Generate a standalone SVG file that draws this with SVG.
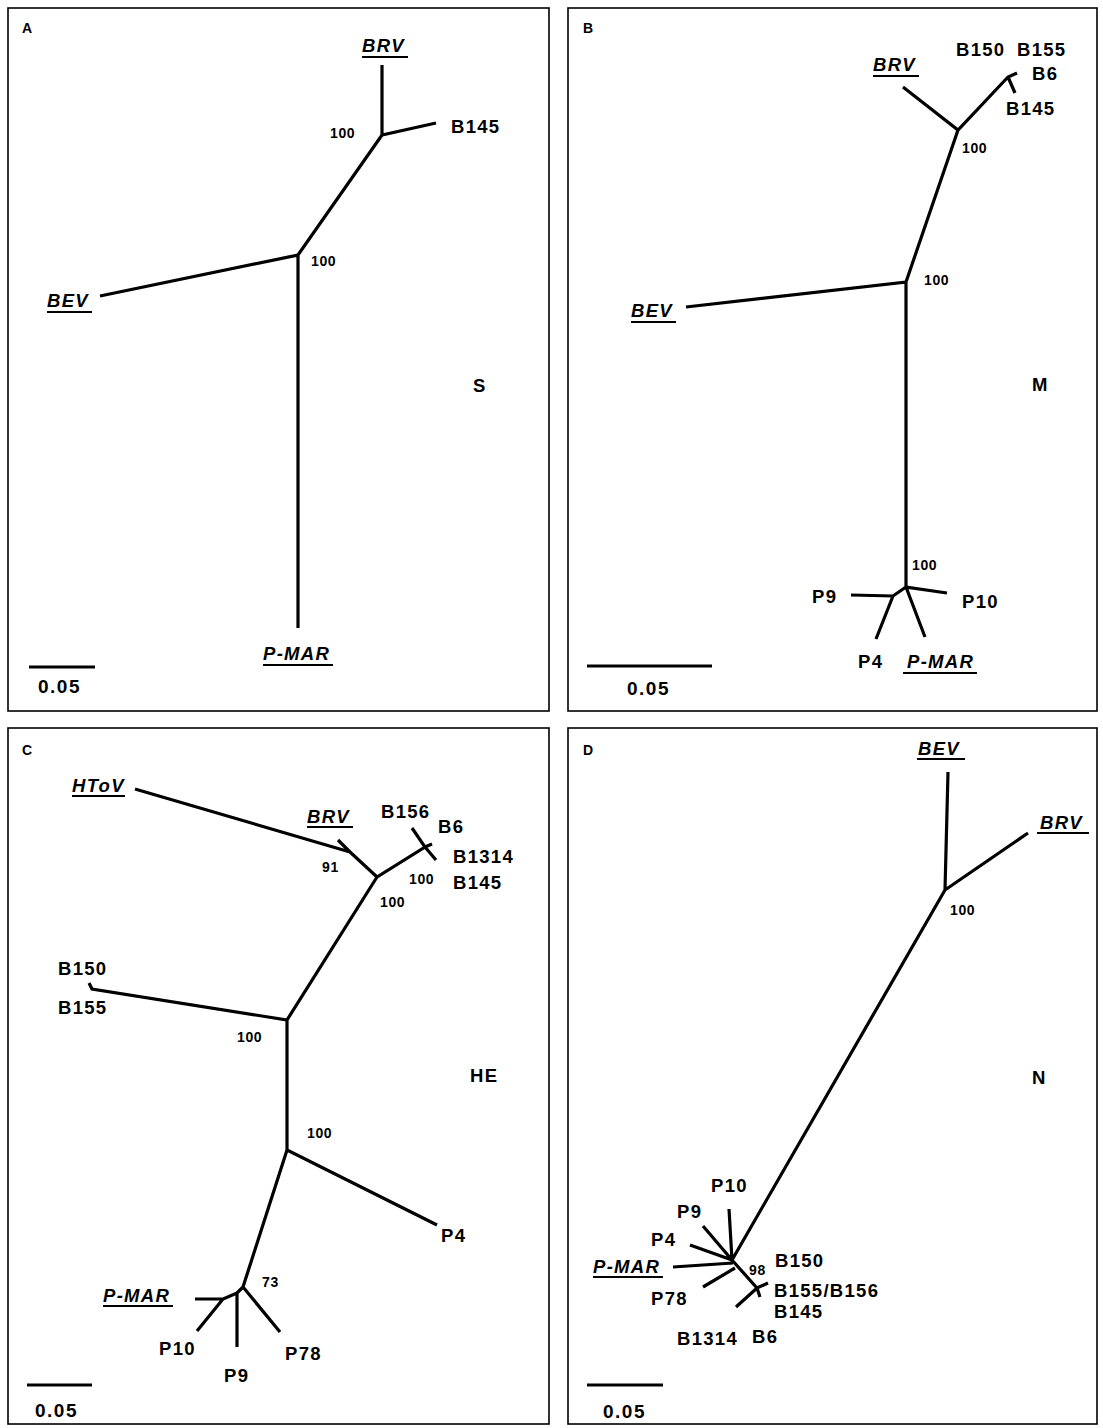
<svg xmlns="http://www.w3.org/2000/svg" width="1103" height="1428" viewBox="0 0 1103 1428">
<style>
.frame{fill:none;stroke:#000;stroke-width:1.6}
.br{fill:none;stroke:#000;stroke-width:3.2;stroke-linecap:butt;stroke-linejoin:miter}
.ul{stroke:#000;stroke-width:2}
text{font-family:"Liberation Sans",Arial,sans-serif;font-weight:bold;fill:#000}
.lb{font-size:18.5px;letter-spacing:1.3px}
.it{font-style:italic}
.bs{font-size:14px;letter-spacing:0.6px}
.pl{font-size:14px}
.sc{font-size:19px;letter-spacing:1.5px}
</style>
<rect width="1103" height="1428" fill="#fff"/>
<rect class="frame" x="8" y="8" width="541" height="703"/>
<rect class="frame" x="568" y="8" width="529" height="703"/>
<rect class="frame" x="8" y="728" width="541" height="696"/>
<rect class="frame" x="568" y="728" width="529" height="696"/>

<g id="connectors">
  <!-- Panel A -->
  <path class="br" d="M382 65 L382 135 L436 123 M382 135 L298 255 L100 296 M298 255 L298 628"/>
  <!-- Panel B -->
  <path class="br" d="M903 87 L958 130 L1008 77 L1017 73 M1008 77 L1015 93 M958 130 L906 282 L686 307 M906 282 L906 587 L947 593 M906 587 L893 596 L851 595 M893 596 L876 639 M906 587 L925 637"/>
  <!-- Panel C -->
  <path class="br" d="M135 789 L350 852 L338 840 M350 852 L377 877 L425 847 L412 828 M425 847 L436 860 M425 847 L432 844 M377 877 L287 1020 L92 989 L89 983 M287 1020 L287 1150 L437 1225 M287 1150 L243 1287 L280 1332 M243 1287 L237 1293 L237 1347 M237 1293 L223 1299 L197 1331 M223 1299 L195 1299"/>
  <!-- Panel D -->
  <path class="br" d="M948 772 L945 890 L1028 833 M945 890 L732 1260 L729 1209 M732 1260 L703 1226 M732 1260 L690 1245 M733 1263 L673 1267 M735 1268 L703 1287 M732 1260 L757 1288 L768 1283 M757 1288 L760 1297 M757 1288 L736 1307"/>
  <!-- Scale bars -->
  <path class="br" d="M29 667 L95 667 M587 666 L712 666 M27 1385 L92 1385 M587 1385 L663 1385"/>
</g>

<g id="panelA">
  <text class="pl" x="22" y="33">A</text>
  <g id="A-BRV"><text class="lb it" x="362" y="52">BRV</text><line class="ul" x1="362" y1="57" x2="408" y2="57"/></g>
  <g id="A-B145"><text class="lb" x="451" y="133">B145</text></g>
  <g id="A-BEV"><text class="lb it" x="47" y="307">BEV</text><line class="ul" x1="47" y1="312" x2="92" y2="312"/></g>
  <g id="A-PMAR"><text class="lb it" x="263" y="660">P-MAR</text><line class="ul" x1="263" y1="665" x2="333" y2="665"/></g>
  <text class="bs" x="330" y="138">100</text>
  <text class="bs" x="311" y="266">100</text>
  <text class="lb" x="473" y="392">S</text>
  <text class="sc" x="38" y="693">0.05</text>
</g>

<g id="panelB">
  <text class="pl" x="583" y="33">B</text>
  <g id="B-B150"><text class="lb" x="956" y="56">B150</text></g>
  <g id="B-B155"><text class="lb" x="1017" y="56">B155</text></g>
  <g id="B-B6"><text class="lb" x="1032" y="80">B6</text></g>
  <g id="B-B145"><text class="lb" x="1006" y="115">B145</text></g>
  <g id="B-BRV"><text class="lb it" x="873" y="71">BRV</text><line class="ul" x1="873" y1="76" x2="919" y2="76"/></g>
  <g id="B-BEV"><text class="lb it" x="631" y="317">BEV</text><line class="ul" x1="631" y1="322" x2="676" y2="322"/></g>
  <g id="B-P9"><text class="lb" x="812" y="603">P9</text></g>
  <g id="B-P10"><text class="lb" x="962" y="608">P10</text></g>
  <g id="B-P4"><text class="lb" x="858" y="668">P4</text></g>
  <g id="B-PMAR"><text class="lb it" x="907" y="668">P-MAR</text><line class="ul" x1="903" y1="673" x2="977" y2="673"/></g>
  <text class="bs" x="962" y="153">100</text>
  <text class="bs" x="924" y="285">100</text>
  <text class="bs" x="912" y="570">100</text>
  <text class="lb" x="1032" y="391">M</text>
  <text class="sc" x="627" y="695">0.05</text>
</g>

<g id="panelC">
  <text class="pl" x="22" y="755">C</text>
  <g id="C-HToV"><text class="lb it" x="72" y="792">HToV</text><line class="ul" x1="72" y1="796" x2="125" y2="796"/></g>
  <g id="C-BRV"><text class="lb it" x="307" y="823">BRV</text><line class="ul" x1="307" y1="827" x2="353" y2="827"/></g>
  <g id="C-B156"><text class="lb" x="381" y="818">B156</text></g>
  <g id="C-B6"><text class="lb" x="438" y="833">B6</text></g>
  <g id="C-B1314"><text class="lb" x="453" y="863">B1314</text></g>
  <g id="C-B145"><text class="lb" x="453" y="889">B145</text></g>
  <g id="C-B150"><text class="lb" x="58" y="975">B150</text></g>
  <g id="C-B155"><text class="lb" x="58" y="1014">B155</text></g>
  <g id="C-P4"><text class="lb" x="441" y="1242">P4</text></g>
  <g id="C-PMAR"><text class="lb it" x="103" y="1302">P-MAR</text><line class="ul" x1="103" y1="1306" x2="173" y2="1306"/></g>
  <g id="C-P10"><text class="lb" x="159" y="1355">P10</text></g>
  <g id="C-P9"><text class="lb" x="224" y="1382">P9</text></g>
  <g id="C-P78"><text class="lb" x="285" y="1360">P78</text></g>
  <text class="bs" x="322" y="872">91</text>
  <text class="bs" x="409" y="884">100</text>
  <text class="bs" x="380" y="907">100</text>
  <text class="bs" x="237" y="1042">100</text>
  <text class="bs" x="307" y="1138">100</text>
  <text class="bs" x="262" y="1287">73</text>
  <text class="lb" x="470" y="1082">HE</text>
  <text class="sc" x="35" y="1417">0.05</text>
</g>

<g id="panelD">
  <text class="pl" x="583" y="755">D</text>
  <g id="D-BEV"><text class="lb it" x="918" y="755">BEV</text><line class="ul" x1="917" y1="759" x2="965" y2="759"/></g>
  <g id="D-BRV"><text class="lb it" x="1040" y="829">BRV</text><line class="ul" x1="1037" y1="833" x2="1089" y2="833"/></g>
  <g id="D-P10"><text class="lb" x="711" y="1192">P10</text></g>
  <g id="D-P9"><text class="lb" x="677" y="1218">P9</text></g>
  <g id="D-P4"><text class="lb" x="651" y="1246">P4</text></g>
  <g id="D-PMAR"><text class="lb it" x="593" y="1273">P-MAR</text><line class="ul" x1="593" y1="1277" x2="663" y2="1277"/></g>
  <g id="D-P78"><text class="lb" x="651" y="1305">P78</text></g>
  <g id="D-B150"><text class="lb" x="775" y="1267">B150</text></g>
  <g id="D-B155B156"><text class="lb" x="774" y="1297">B155/B156</text></g>
  <g id="D-B145"><text class="lb" x="774" y="1318">B145</text></g>
  <g id="D-B1314"><text class="lb" x="677" y="1345">B1314</text></g>
  <g id="D-B6"><text class="lb" x="752" y="1343">B6</text></g>
  <text class="bs" x="950" y="915">100</text>
  <text class="bs" x="749" y="1275">98</text>
  <text class="lb" x="1032" y="1084">N</text>
  <text class="sc" x="603" y="1418">0.05</text>
</g>
</svg>
